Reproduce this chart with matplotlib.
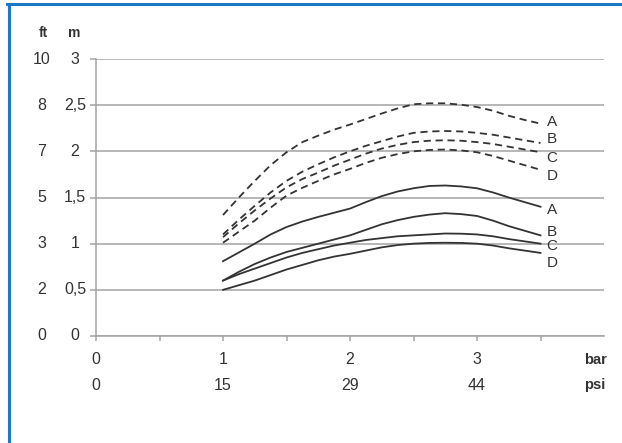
import numpy as np
import matplotlib
matplotlib.use("Agg")
import matplotlib.pyplot as plt
from matplotlib.lines import Line2D
from matplotlib.transforms import blended_transform_factory

plt.rcParams['font.family'] = ['Liberation Sans', 'DejaVu Sans']

# pressure (bar) at which the curves were read
bar = [1.0, 1.125, 1.25, 1.375, 1.5, 1.625, 1.75, 1.875, 2.0, 2.125, 2.25,
       2.375, 2.5, 2.625, 2.75, 2.875, 3.0, 3.125, 3.25, 3.375, 3.5]

# dashed curves (m)
dash_a = [1.31, 1.50, 1.68, 1.85, 1.99, 2.10, 2.17, 2.235, 2.29, 2.35, 2.41,
          2.465, 2.51, 2.52, 2.52, 2.505, 2.48, 2.44, 2.385, 2.34, 2.30]
dash_b = [1.10, 1.26, 1.41, 1.555, 1.68, 1.78, 1.86, 1.935, 2.00, 2.06, 2.11,
          2.16, 2.20, 2.215, 2.22, 2.215, 2.20, 2.18, 2.15, 2.12, 2.09]
dash_c = [1.07, 1.22, 1.36, 1.49, 1.61, 1.70, 1.77, 1.845, 1.91, 1.975, 2.03,
          2.07, 2.10, 2.115, 2.12, 2.115, 2.10, 2.08, 2.05, 2.02, 1.99]
dash_d = [1.01, 1.13, 1.25, 1.39, 1.52, 1.605, 1.68, 1.75, 1.81, 1.875, 1.93,
          1.97, 2.00, 2.015, 2.02, 2.01, 1.99, 1.95, 1.90, 1.85, 1.80]

# solid curves (m)
solid_a = [0.81, 0.905, 1.00, 1.10, 1.18, 1.24, 1.29, 1.335, 1.38, 1.45, 1.515,
           1.565, 1.60, 1.625, 1.63, 1.62, 1.60, 1.555, 1.50, 1.45, 1.40]
solid_b = [0.60, 0.695, 0.78, 0.85, 0.91, 0.955, 1.00, 1.045, 1.09, 1.15, 1.21,
           1.255, 1.29, 1.315, 1.33, 1.32, 1.30, 1.25, 1.19, 1.14, 1.09]
solid_c = [0.60, 0.67, 0.73, 0.79, 0.85, 0.90, 0.94, 0.98, 1.01, 1.04, 1.06,
           1.08, 1.09, 1.10, 1.11, 1.108, 1.10, 1.08, 1.05, 1.025, 1.00]
solid_d = [0.50, 0.55, 0.60, 0.66, 0.72, 0.77, 0.82, 0.86, 0.89, 0.925, 0.96,
           0.985, 1.00, 1.008, 1.01, 1.008, 1.00, 0.98, 0.95, 0.925, 0.90]

letters = ["A", "B", "C", "D"]
dash_label_y = [2.32, 2.13, 1.93, 1.73]
solid_label_y = [1.37, 1.13, 0.97, 0.79]

# axis labels
m_ticks = [0, 0.5, 1, 1.5, 2, 2.5, 3]
m_labels = ["0", "0,5", "1", "1,5", "2", "2,5", "3"]
ft_labels = ["0", "2", "3", "5", "7", "8", "10"]
bar_ticks = [0, 1, 2, 3]
psi_labels = ["0", "15", "29", "44"]

LINE = "#333333"
GRID = "#a3a3a3"
TXT = "#333333"

fig = plt.figure(figsize=(6.22, 4.43), dpi=100)
ax = fig.add_axes([96/622, 1 - 336/443, 508/622, 277/443])

for ys in [dash_a, dash_b, dash_c, dash_d]:
    ax.plot(bar, ys, color=LINE, lw=1.3, dashes=(4, 2.6))
for ys in [solid_a, solid_b, solid_c, solid_d]:
    ax.plot(bar, ys, color=LINE, lw=1.3)

for l, y in zip(letters, dash_label_y):
    ax.text(3.59, y, l, ha="center", va="center", fontsize=11, color=TXT)
for l, y in zip(letters, solid_label_y):
    ax.text(3.59, y, l, ha="center", va="center", fontsize=11, color=TXT)

ax.set_xlim(0, 4)
ax.set_ylim(0, 3)
ax.set_yticks(m_ticks)
ax.yaxis.grid(True, color=GRID, lw=1.1)
ax.set_axisbelow(True)
ax.set_xticks(bar_ticks)
ax.set_xticks([0.5, 1.5, 2.5, 3.5], minor=True)
ax.tick_params(axis="y", length=4.3, width=1.1, color=GRID, labelleft=False)
ax.tick_params(axis="x", which="both", length=3.3, width=1.1, color=GRID, labelbottom=False)
for s in ["top", "right"]:
    ax.spines[s].set_visible(False)
for s in ["left", "bottom"]:
    ax.spines[s].set_color(GRID)
    ax.spines[s].set_linewidth(1.1)

# two-column y labels (ft and m)
ty = blended_transform_factory(fig.transFigure, ax.transData)
for y, ft, m in zip(m_ticks, ft_labels, m_labels):
    fig.text(42/622, y, ft, transform=ty, ha="center", va="center", fontsize=11.5, color=TXT)
    fig.text(75/622, y, m, transform=ty, ha="center", va="center", fontsize=11.5, color=TXT)
fig.text(43/622, 1 - 33/443, "ft", ha="center", va="center", fontsize=10, fontweight="bold", color=TXT)
fig.text(74/622, 1 - 33/443, "m", ha="center", va="center", fontsize=10, fontweight="bold", color=TXT)

# two-row x labels (bar and psi)
tx = blended_transform_factory(ax.transData, fig.transFigure)
for x, p in zip(bar_ticks, psi_labels):
    fig.text(x, 1 - 360/443, str(x), transform=tx, ha="center", va="center", fontsize=11.5, color=TXT)
    fig.text(x, 1 - 385/443, p, transform=tx, ha="center", va="center", fontsize=11.5, color=TXT)
fig.text(584/622, 1 - 360/443, "bar", ha="left", va="center", fontsize=10.5, fontweight="bold", color=TXT)
fig.text(584/622, 1 - 385/443, "psi", ha="left", va="center", fontsize=10.5, fontweight="bold", color=TXT)

# blue frame on top and left
BLUE = "#1a78c6"
fig.add_artist(Line2D([7.5/622, 1], [1 - 3.7/443, 1 - 3.7/443], color=BLUE, lw=2.2))
fig.add_artist(Line2D([8.7/622, 8.7/622], [0, 1 - 3.7/443], color=BLUE, lw=2.2))

fig.savefig("out.png", dpi=100)
